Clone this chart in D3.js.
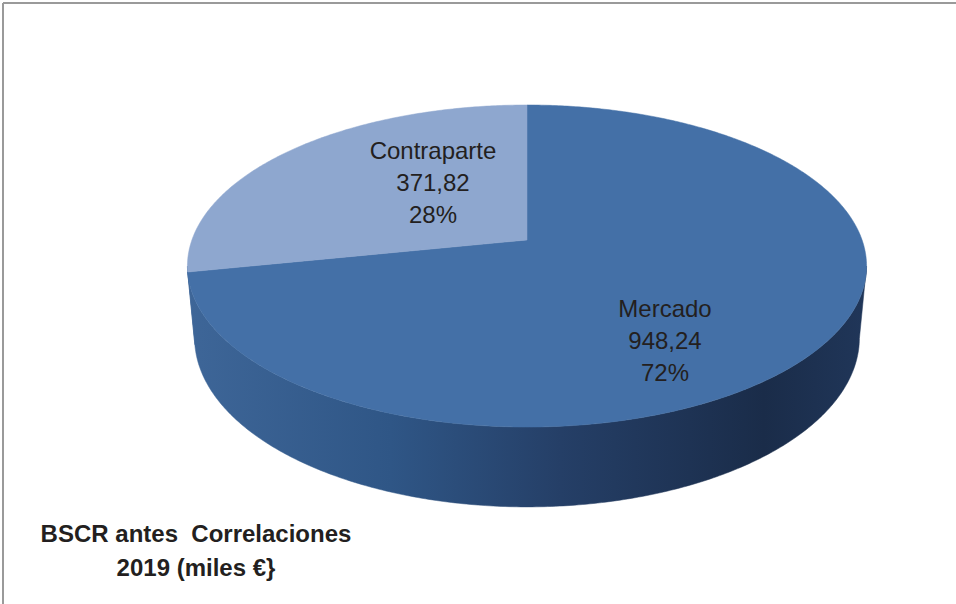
<!DOCTYPE html>
<html>
<head>
<meta charset="utf-8">
<script src="https://cdn.jsdelivr.net/npm/d3@7"></script>
<style>
  html, body { margin: 0; padding: 0; background: #fff; }
  svg { display: block; }
</style>
</head>
<body>
<svg id="chart" width="956" height="604"></svg>
<script>
const categories = ['Mercado', 'Contraparte'];
const values = [948.24, 371.82];
const valueLabels = ['948,24', '371,82'];
const titleLines = ['BSCR antes  Correlaciones', '2019 (miles €}'];

const svg = d3.select('#chart');
const styles = {
  top: ['#4470a7', '#8ea7cf'],
  text: '#231f20',
  border: '#9a9a9a'
};

// perspective view of a flat disk (radius 1)
const view = { cx: 527, cy: 240, f: 1833, dist: 5.47, tilt: Math.asin(0.468), depth: 0.245 };
const sa = Math.sin(view.tilt), ca = Math.cos(view.tilt);

function proj(phi, h) {
  const X = Math.sin(phi), Z = Math.cos(phi);
  const yc = Z * sa + h * ca;
  const zc = view.dist + Z * ca - h * sa;
  return [view.cx + view.f * X / zc, view.cy - view.f * yc / zc];
}
function center(h) {
  const zc = view.dist - h * sa;
  return [view.cx, view.cy - view.f * (h * ca) / zc];
}

const pie = d3.pie().sort(null).value(d => d);
const arcs = pie(values);
const line = d3.line();
const total = d3.sum(values);

function rim(a0, a1, h) {
  const n = Math.max(2, Math.ceil((a1 - a0) / 0.01));
  return d3.range(n + 1).map(i => proj(a0 + (a1 - a0) * i / n, h));
}

// border
svg.append('line').attr('x1', 3).attr('x2', 956).attr('y1', 3).attr('y2', 3)
  .style('stroke', styles.border).style('stroke-width', 2);
svg.append('line').attr('x1', 3).attr('x2', 3).attr('y1', 3).attr('y2', 604)
  .style('stroke', styles.border).style('stroke-width', 2);

// side gradient
const defs = svg.append('defs');
const grad = defs.append('linearGradient').attr('id', 'side')
  .attr('gradientUnits', 'userSpaceOnUse')
  .attr('x1', 187).attr('x2', 866).attr('y1', 0).attr('y2', 0);
[[0, '#3e6698'], [0.3, '#2f5686'], [0.55, '#253f67'], [0.85, '#1a2c49'], [1, '#203659']]
  .forEach(s => grad.append('stop').attr('offset', s[0]).attr('stop-color', s[1]));

// visible part of the side wall
const vis0 = Math.acos(-ca / view.dist), vis1 = 2 * Math.PI - vis0;
const h = -view.depth;
svg.append('g').selectAll('path')
  .data(arcs)
  .enter()
  .append('path')
  .attr('d', d => {
    const a0 = Math.max(d.startAngle, vis0), a1 = Math.min(d.endAngle, vis1);
    if (a1 <= a0) return null;
    return line(rim(a0, a1, 0).concat(rim(a0, a1, h).reverse())) + 'Z';
  })
  .style('fill', 'url(#side)')
  .style('stroke', 'url(#side)')
  .style('stroke-width', 0.5);

// top faces
svg.append('g').selectAll('path')
  .data(arcs)
  .enter()
  .append('path')
  .attr('d', d => line([center(0)].concat(rim(d.startAngle, d.endAngle, 0))) + 'Z')
  .style('fill', (d, i) => styles.top[i])
  .style('stroke', (d, i) => styles.top[i])
  .style('stroke-width', 0.5);

// data labels
const labelPos = [[665, 317], [433, 159]];
const lbl = svg.append('g').selectAll('text')
  .data(arcs)
  .enter()
  .append('text')
  .attr('text-anchor', 'middle')
  .style('font-family', '"Liberation Sans", Arial, sans-serif')
  .style('font-size', '24px')
  .style('fill', styles.text);
lbl.each(function (d, i) {
  const t = d3.select(this);
  const rows = [categories[i], valueLabels[i], Math.round(d.value / total * 100) + '%'];
  rows.forEach((r, k) => t.append('tspan')
    .attr('x', labelPos[i][0]).attr('y', labelPos[i][1] + k * 32).text(r));
});

// title
svg.append('g').selectAll('text')
  .data(titleLines)
  .enter()
  .append('text')
  .attr('x', 196)
  .attr('y', (d, i) => 542 + i * 34)
  .attr('text-anchor', 'middle')
  .style('font-family', '"Liberation Sans", Arial, sans-serif')
  .style('font-weight', 'bold')
  .style('font-size', '24px')
  .style('white-space', 'pre')
  .style('fill', styles.text)
  .text(d => d);
</script>
</body>
</html>
